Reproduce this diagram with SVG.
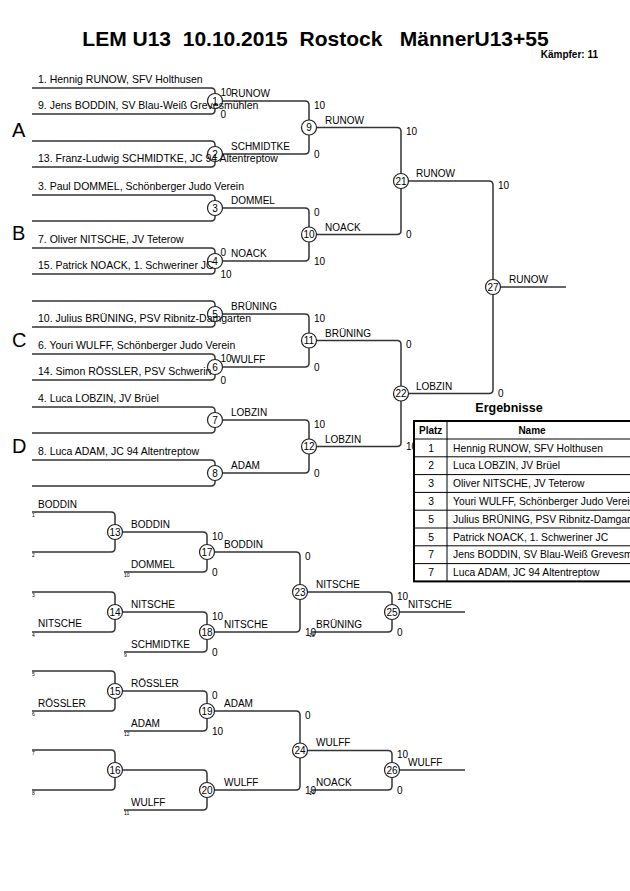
<svg xmlns="http://www.w3.org/2000/svg" width="630" height="891" viewBox="0 0 630 891">
<style>
text{font-family:"Liberation Sans",Arial,sans-serif;fill:#000}
.t{font-size:10.5px}
.tt{font-size:10.3px}
.s{font-size:10px}
.lbl{font-size:10px}
.idx{font-size:5px}
.big{font-size:20px}
.num{font-size:10px;text-anchor:middle}
.c{fill:none;stroke:#222;stroke-width:1.2}
.ln{fill:none;stroke:#333;stroke-width:1.5}
.tb{fill:#fff;stroke:#000;stroke-width:2}
.tl{stroke:#000;stroke-width:1}
.h{font-size:10px;font-weight:bold}
</style>
<rect width="630" height="891" fill="#fff"/>
<text x="315.5" y="46" font-size="21" font-weight="bold" text-anchor="middle" xml:space="preserve">LEM U13  10.10.2015  Rostock   MännerU13+55</text>
<text x="598" y="58" font-size="10" font-weight="bold" text-anchor="end">Kämpfer: 11</text>

<g id="connectors" class="ln">
<path d="M32,88 H211 Q215,88 215,92 V93.5 M215,108.5 V110 Q215,114 211,114 H32"/>
<path d="M32,141 H211 Q215,141 215,145 V146.5 M215,161.5 V163 Q215,167 211,167 H32"/>
<path d="M32,195 H211 Q215,195 215,199 V200.5 M215,215.5 V217 Q215,221 211,221 H32"/>
<path d="M32,248 H211 Q215,248 215,252 V253.5 M215,268.5 V270 Q215,274 211,274 H32"/>
<path d="M32,301 H211 Q215,301 215,305 V306.5 M215,321.5 V323 Q215,327 211,327 H32"/>
<path d="M32,354 H211 Q215,354 215,358 V359.5 M215,374.5 V376 Q215,380 211,380 H32"/>
<path d="M32,407 H211 Q215,407 215,411 V412.5 M215,427.5 V429 Q215,433 211,433 H32"/>
<path d="M32,460 H211 Q215,460 215,464 V465.5 M215,480.5 V482 Q215,486 211,486 H32"/>
<path d="M222.5,101 H305 Q309,101 309,105 V120 M309,135 V150 Q309,154 305,154 H222.5"/>
<path d="M222.5,208 H305 Q309,208 309,212 V227 M309,242 V257 Q309,261 305,261 H222.5"/>
<path d="M222.5,314 H305 Q309,314 309,318 V333 M309,348 V363 Q309,367 305,367 H222.5"/>
<path d="M222.5,420 H305 Q309,420 309,424 V439 M309,454 V469 Q309,473 305,473 H222.5"/>
<path d="M316.5,127.5 H397 Q401,127.5 401,131.5 V173.5 M401,188.5 V230.5 Q401,234.5 397,234.5 H316.5"/>
<path d="M316.5,340.5 H397 Q401,340.5 401,344.5 V386 M401,401 V442.5 Q401,446.5 397,446.5 H316.5"/>
<path d="M408.5,181 H489 Q493,181 493,185 V279.5 M493,294.5 V389.5 Q493,393.5 489,393.5 H408.5"/>
<path d="M500.5,287 H566"/>
<path d="M32,512 H111 Q115,512 115,516 V524.5 M115,539.5 V548 Q115,552 111,552 H32"/>
<path d="M32,592 H111 Q115,592 115,596 V604.5 M115,619.5 V628 Q115,632 111,632 H32"/>
<path d="M32,671 H111 Q115,671 115,675 V683.5 M115,698.5 V707 Q115,711 111,711 H32"/>
<path d="M32,750 H111 Q115,750 115,754 V762.5 M115,777.5 V786 Q115,790 111,790 H32"/>
<path d="M122.5,532 H203 Q207,532 207,536 V544.5 M207,559.5 V568 Q207,572 203,572 H124"/>
<path d="M122.5,612 H203 Q207,612 207,616 V624.5 M207,639.5 V648 Q207,652 203,652 H124"/>
<path d="M122.5,691 H203 Q207,691 207,695 V703.5 M207,718.5 V727 Q207,731 203,731 H124"/>
<path d="M122.5,770 H203 Q207,770 207,774 V782.5 M207,797.5 V806 Q207,810 203,810 H124"/>
<path d="M214.5,552 H296 Q300,552 300,556 V584.5 M300,599.5 V628 Q300,632 296,632 H214.5"/>
<path d="M214.5,711 H296 Q300,711 300,715 V743 M300,758 V786 Q300,790 296,790 H214.5"/>
<path d="M307.5,592 H388 Q392,592 392,596 V604.5 M392,619.5 V628 Q392,632 388,632 H312"/>
<path d="M399.5,612 H465"/>
<path d="M307.5,750.5 H388 Q392,750.5 392,754.5 V762.5 M392,777.5 V786 Q392,790 388,790 H312"/>
<path d="M399.5,770 H465"/>
</g>

<g id="entries" class="t">
<text x="38" y="83">1. Hennig RUNOW, SFV Holthusen</text>
<text x="38" y="109">9. Jens BODDIN, SV Blau-Weiß Grevesmühlen</text>
<text x="38" y="162">13. Franz-Ludwig SCHMIDTKE, JC 94 Altentreptow</text>
<text x="38" y="190">3. Paul DOMMEL, Schönberger Judo Verein</text>
<text x="38" y="243">7. Oliver NITSCHE, JV Teterow</text>
<text x="38" y="269">15. Patrick NOACK, 1. Schweriner JC</text>
<text x="38" y="322">10. Julius BRÜNING, PSV Ribnitz-Damgarten</text>
<text x="38" y="349">6. Youri WULFF, Schönberger Judo Verein</text>
<text x="38" y="375">14. Simon RÖSSLER, PSV Schwerin</text>
<text x="38" y="402">4. Luca LOBZIN, JV Brüel</text>
<text x="38" y="455">8. Luca ADAM, JC 94 Altentreptow</text>
</g>
<g id="pools" class="big">
<text x="12" y="137">A</text>
<text x="12" y="240">B</text>
<text x="12" y="347">C</text>
<text x="12" y="453">D</text>
</g>

<g id="winners" class="lbl">
<text x="231" y="97">RUNOW</text>
<text x="231" y="150">SCHMIDTKE</text>
<text x="231" y="204">DOMMEL</text>
<text x="231" y="257">NOACK</text>
<text x="231" y="310">BRÜNING</text>
<text x="231" y="363">WULFF</text>
<text x="231" y="416">LOBZIN</text>
<text x="231" y="469">ADAM</text>
<text x="325" y="124">RUNOW</text>
<text x="325" y="231">NOACK</text>
<text x="325" y="337">BRÜNING</text>
<text x="325" y="443">LOBZIN</text>
<text x="416" y="177">RUNOW</text>
<text x="416" y="390">LOBZIN</text>
<text x="509" y="283">RUNOW</text>
<text x="38" y="508">BODDIN</text>
<text x="38" y="627">NITSCHE</text>
<text x="38" y="707">RÖSSLER</text>
<text x="131" y="528">BODDIN</text>
<text x="131" y="568">DOMMEL</text>
<text x="131" y="608">NITSCHE</text>
<text x="131" y="648">SCHMIDTKE</text>
<text x="131" y="687">RÖSSLER</text>
<text x="131" y="727">ADAM</text>
<text x="131" y="806">WULFF</text>
<text x="224" y="548">BODDIN</text>
<text x="224" y="628">NITSCHE</text>
<text x="224" y="707">ADAM</text>
<text x="224" y="786">WULFF</text>
<text x="316" y="588">NITSCHE</text>
<text x="316" y="628">BRÜNING</text>
<text x="316" y="746">WULFF</text>
<text x="316" y="786">NOACK</text>
<text x="408" y="608">NITSCHE</text>
<text x="408" y="766">WULFF</text>
</g>

<g id="scores" class="s">
<text x="220.5" y="95.5">10</text><text x="220.5" y="117.5">0</text>
<text x="220.5" y="255.5">0</text><text x="220.5" y="277.5">10</text>
<text x="220.5" y="361.5">10</text><text x="220.5" y="383.5">0</text>
<text x="314" y="108.5">10</text><text x="314" y="157.5">0</text>
<text x="314" y="215.5">0</text><text x="314" y="264.5">10</text>
<text x="314" y="321.5">10</text><text x="314" y="370.5">0</text>
<text x="314" y="427.5">10</text><text x="314" y="476.5">0</text>
<text x="406" y="135">10</text><text x="406" y="238">0</text>
<text x="406" y="348">0</text><text x="406" y="450">10</text>
<text x="498" y="188.5">10</text><text x="498" y="397">0</text>
<text x="212" y="539.5">10</text><text x="212" y="575.5">0</text>
<text x="212" y="619.5">10</text><text x="212" y="655.5">0</text>
<text x="212" y="698.5">0</text><text x="212" y="734.5">10</text>
<text x="305" y="559.5">0</text><text x="305" y="635.5">10</text>
<text x="305" y="718.5">0</text><text x="305" y="793.5">10</text>
<text x="397" y="599.5">10</text><text x="397" y="635.5">0</text>
<text x="397" y="757.5">10</text><text x="397" y="793.5">0</text>
</g>

<g id="indices" class="idx">
<text x="32" y="517">1</text><text x="32" y="557">2</text>
<text x="32" y="597">3</text><text x="32" y="637">4</text>
<text x="32" y="676">5</text><text x="32" y="716">6</text>
<text x="32" y="755">7</text><text x="32" y="795">8</text>
<text x="124" y="577">10</text><text x="124" y="657">9</text>
<text x="124" y="736">12</text><text x="124" y="815">11</text>
<text x="309" y="637">13</text><text x="309" y="795">14</text>
</g>

<g id="m1"><circle class="c" cx="215" cy="101" r="7.5"/><text class="num" x="215" y="104.5">1</text></g>
<g id="m2"><circle class="c" cx="215" cy="154" r="7.5"/><text class="num" x="215" y="157.5">2</text></g>
<g id="m3"><circle class="c" cx="215" cy="208" r="7.5"/><text class="num" x="215" y="211.5">3</text></g>
<g id="m4"><circle class="c" cx="215" cy="261" r="7.5"/><text class="num" x="215" y="264.5">4</text></g>
<g id="m5"><circle class="c" cx="215" cy="314" r="7.5"/><text class="num" x="215" y="317.5">5</text></g>
<g id="m6"><circle class="c" cx="215" cy="367" r="7.5"/><text class="num" x="215" y="370.5">6</text></g>
<g id="m7"><circle class="c" cx="215" cy="420" r="7.5"/><text class="num" x="215" y="423.5">7</text></g>
<g id="m8"><circle class="c" cx="215" cy="473" r="7.5"/><text class="num" x="215" y="476.5">8</text></g>
<g id="m9"><circle class="c" cx="309" cy="127.5" r="7.5"/><text class="num" x="309" y="131">9</text></g>
<g id="m10"><circle class="c" cx="309" cy="234.5" r="7.5"/><text class="num" x="309" y="238">10</text></g>
<g id="m11"><circle class="c" cx="309" cy="340.5" r="7.5"/><text class="num" x="309" y="344">11</text></g>
<g id="m12"><circle class="c" cx="309" cy="446.5" r="7.5"/><text class="num" x="309" y="450">12</text></g>
<g id="m21"><circle class="c" cx="401" cy="181" r="7.5"/><text class="num" x="401" y="184.5">21</text></g>
<g id="m22"><circle class="c" cx="401" cy="393.5" r="7.5"/><text class="num" x="401" y="397">22</text></g>
<g id="m27"><circle class="c" cx="493" cy="287" r="7.5"/><text class="num" x="493" y="290.5">27</text></g>
<g id="m13"><circle class="c" cx="115" cy="532" r="7.5"/><text class="num" x="115" y="535.5">13</text></g>
<g id="m14"><circle class="c" cx="115" cy="612" r="7.5"/><text class="num" x="115" y="615.5">14</text></g>
<g id="m15"><circle class="c" cx="115" cy="691" r="7.5"/><text class="num" x="115" y="694.5">15</text></g>
<g id="m16"><circle class="c" cx="115" cy="770" r="7.5"/><text class="num" x="115" y="773.5">16</text></g>
<g id="m17"><circle class="c" cx="207" cy="552" r="7.5"/><text class="num" x="207" y="555.5">17</text></g>
<g id="m18"><circle class="c" cx="207" cy="632" r="7.5"/><text class="num" x="207" y="635.5">18</text></g>
<g id="m19"><circle class="c" cx="207" cy="711" r="7.5"/><text class="num" x="207" y="714.5">19</text></g>
<g id="m20"><circle class="c" cx="207" cy="790" r="7.5"/><text class="num" x="207" y="793.5">20</text></g>
<g id="m23"><circle class="c" cx="300" cy="592" r="7.5"/><text class="num" x="300" y="595.5">23</text></g>
<g id="m24"><circle class="c" cx="300" cy="750.5" r="7.5"/><text class="num" x="300" y="754">24</text></g>
<g id="m25"><circle class="c" cx="392" cy="612" r="7.5"/><text class="num" x="392" y="615.5">25</text></g>
<g id="m26"><circle class="c" cx="392" cy="770" r="7.5"/><text class="num" x="392" y="773.5">26</text></g>

<g id="results">
<text x="509" y="412" font-size="12.5" font-weight="bold" text-anchor="middle">Ergebnisse</text>
<rect class="tb" x="414" y="421" width="230" height="160.4"/>
<g class="tl">
<line x1="447" y1="421" x2="447" y2="581.4"/>
<line x1="414" y1="439" x2="640" y2="439"/>
<line x1="414" y1="456.8" x2="640" y2="456.8"/>
<line x1="414" y1="474.6" x2="640" y2="474.6"/>
<line x1="414" y1="492.4" x2="640" y2="492.4"/>
<line x1="414" y1="510.2" x2="640" y2="510.2"/>
<line x1="414" y1="528" x2="640" y2="528"/>
<line x1="414" y1="545.8" x2="640" y2="545.8"/>
<line x1="414" y1="563.6" x2="640" y2="563.6"/>
</g>
<text class="h" x="419" y="433.5">Platz</text>
<text class="h" x="532" y="433.5" text-anchor="middle">Name</text>
<g class="tt">
<text x="431" y="451.5" text-anchor="middle">1</text><text x="453" y="451.5">Hennig RUNOW, SFV Holthusen</text>
<text x="431" y="469.3" text-anchor="middle">2</text><text x="453" y="469.3">Luca LOBZIN, JV Brüel</text>
<text x="431" y="487.1" text-anchor="middle">3</text><text x="453" y="487.1">Oliver NITSCHE, JV Teterow</text>
<text x="431" y="504.9" text-anchor="middle">3</text><text x="453" y="504.9">Youri WULFF, Schönberger Judo Verein</text>
<text x="431" y="522.7" text-anchor="middle">5</text><text x="453" y="522.7">Julius BRÜNING, PSV Ribnitz-Damgarten</text>
<text x="431" y="540.5" text-anchor="middle">5</text><text x="453" y="540.5">Patrick NOACK, 1. Schweriner JC</text>
<text x="431" y="558.3" text-anchor="middle">7</text><text x="453" y="558.3">Jens BODDIN, SV Blau-Weiß Grevesmühlen</text>
<text x="431" y="576.1" text-anchor="middle">7</text><text x="453" y="576.1">Luca ADAM, JC 94 Altentreptow</text>
</g>
</g>
</svg>
